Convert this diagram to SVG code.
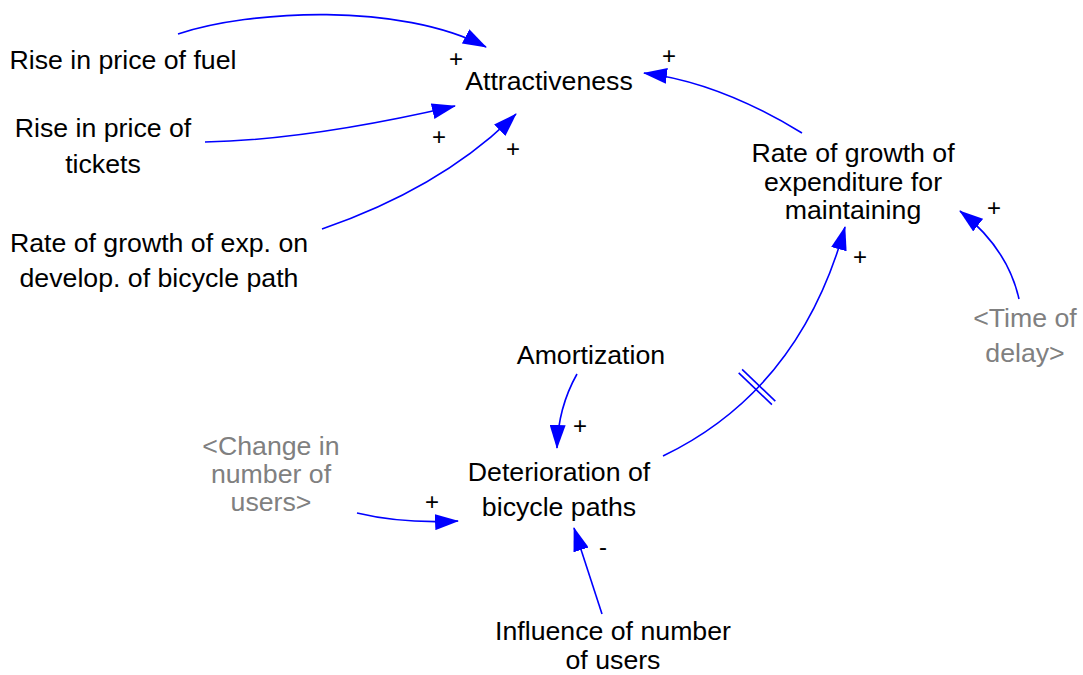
<svg xmlns="http://www.w3.org/2000/svg" width="1083" height="675" viewBox="0 0 1083 675">
<style>
text{font-family:"Liberation Sans",Arial,sans-serif;font-size:26.7px;fill:#000;text-anchor:middle}
.g{fill:#808080}
.s{font-size:24px}
.c{fill:none;stroke:#0000FF;stroke-width:1.6}
</style>
<defs>
<marker id="ah" viewBox="0 0 24 16" refX="23" refY="8" markerWidth="24" markerHeight="16" markerUnits="userSpaceOnUse" orient="auto">
<path d="M0,0 L24,8 L0,16 z" fill="#0000FF"/>
</marker>
</defs>
<rect width="1083" height="675" fill="#fff"/>
<g id="connectors">
<path class="c" d="M178,34 C250,10 400,2 486,47" marker-end="url(#ah)"/>
<path class="c" d="M205,142 Q308,140 455,106" marker-end="url(#ah)"/>
<path class="c" d="M322,229 Q442.5,187.5 516,114" marker-end="url(#ah)"/>
<path class="c" d="M802,133 Q719.3,82.4 644,73" marker-end="url(#ah)"/>
<path class="c" d="M1019,299 Q1007.7,248.3 960,211" marker-end="url(#ah)"/>
<path class="c" d="M663,456 Q800,390 845,227" marker-end="url(#ah)"/>
<path class="c" d="M577,374 Q558.1,407.5 557,448" marker-end="url(#ah)"/>
<path class="c" d="M357,513 Q401.9,523.8 458,521" marker-end="url(#ah)"/>
<path class="c" d="M602,614 L574,528" marker-end="url(#ah)"/>
<line class="c" x1="742.1" y1="369.3" x2="775.3" y2="401.1"/>
<line class="c" x1="738.7" y1="372.9" x2="771.9" y2="404.7"/>
<text x="456" y="67" class="s">+</text>
<text x="439" y="145" class="s">+</text>
<text x="513" y="157" class="s">+</text>
<text x="669" y="64" class="s">+</text>
<text x="994" y="216" class="s">+</text>
<text x="860" y="265" class="s">+</text>
<text x="580" y="434" class="s">+</text>
<text x="432" y="510" class="s">+</text>
<text x="603" y="555" class="s">-</text>
</g>
<g id="attractiveness"><text x="549" y="90">Attractiveness</text></g>
<g id="fuel"><text x="123" y="69">Rise in price of fuel</text></g>
<g id="tickets"><text x="103" y="137">Rise in price of</text><text x="103" y="173">tickets</text></g>
<g id="exp-develop"><text x="159" y="252">Rate of growth of exp. on</text><text x="159" y="287">develop. of bicycle path</text></g>
<g id="maintaining"><text x="853" y="162">Rate of growth of</text><text x="853" y="191">expenditure for</text><text x="853" y="219">maintaining</text></g>
<g id="time-delay"><text class="g" x="1025" y="327">&lt;Time of</text><text class="g" x="1025" y="362">delay&gt;</text></g>
<g id="amortization"><text x="591" y="364">Amortization</text></g>
<g id="deterioration"><text x="559" y="481">Deterioration of</text><text x="559" y="516">bicycle paths</text></g>
<g id="change-users"><text class="g" x="271" y="455">&lt;Change in</text><text class="g" x="271" y="483">number of</text><text class="g" x="271" y="511">users&gt;</text></g>
<g id="influence"><text x="613" y="640">Influence of number</text><text x="613" y="669">of users</text></g>
</svg>
